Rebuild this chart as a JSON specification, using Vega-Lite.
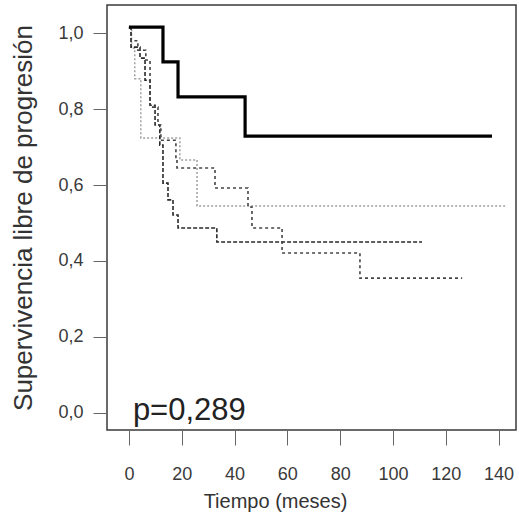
{
  "$schema": "https://vega.github.io/schema/vega-lite/v6.json",
  "width": 409,
  "height": 425,
  "autosize": {"type": "none"},
  "padding": {"left": 107, "top": 5, "right": 3, "bottom": 96},
  "background": "white",
  "config": {
    "view": {"stroke": "#3a3a3a", "strokeWidth": 1.5},
    "font": "Liberation Sans",
    "axis": {"labelFont": "Liberation Sans", "titleFont": "Liberation Sans", "titleFontWeight": "normal", "labelColor": "#3a3a3a", "titleColor": "#333", "tickColor": "#666", "grid": false, "domain": false}
  },
  "datasets": {
    "curves": [
      {"grupo": "A", "t": 0, "s": 1.013},
      {"grupo": "A", "t": 1.0, "s": 0.96},
      {"grupo": "A", "t": 2.2, "s": 0.88},
      {"grupo": "A", "t": 4.5, "s": 0.724},
      {"grupo": "A", "t": 19.3, "s": 0.666},
      {"grupo": "A", "t": 25.8, "s": 0.545},
      {"grupo": "A", "t": 142.5, "s": 0.545},
      {"grupo": "B", "t": 0, "s": 1.013},
      {"grupo": "B", "t": 0.8, "s": 0.963},
      {"grupo": "B", "t": 4.2, "s": 0.934},
      {"grupo": "B", "t": 6.1, "s": 0.876},
      {"grupo": "B", "t": 8.0, "s": 0.81},
      {"grupo": "B", "t": 9.9, "s": 0.758},
      {"grupo": "B", "t": 11.7, "s": 0.705},
      {"grupo": "B", "t": 12.9, "s": 0.605},
      {"grupo": "B", "t": 14.8, "s": 0.561},
      {"grupo": "B", "t": 16.7, "s": 0.521},
      {"grupo": "B", "t": 18.6, "s": 0.487},
      {"grupo": "B", "t": 33.3, "s": 0.45},
      {"grupo": "B", "t": 111, "s": 0.45},
      {"grupo": "C", "t": 0, "s": 1.013},
      {"grupo": "C", "t": 0.8, "s": 0.98},
      {"grupo": "C", "t": 3.4, "s": 0.955},
      {"grupo": "C", "t": 6.4, "s": 0.929},
      {"grupo": "C", "t": 8.0, "s": 0.805},
      {"grupo": "C", "t": 11.0, "s": 0.758},
      {"grupo": "C", "t": 12.1, "s": 0.718},
      {"grupo": "C", "t": 17.8, "s": 0.666},
      {"grupo": "C", "t": 18.2, "s": 0.645},
      {"grupo": "C", "t": 32.6, "s": 0.592},
      {"grupo": "C", "t": 45.1, "s": 0.542},
      {"grupo": "C", "t": 46.6, "s": 0.487},
      {"grupo": "C", "t": 58.0, "s": 0.421},
      {"grupo": "C", "t": 87.5, "s": 0.355},
      {"grupo": "C", "t": 126.2, "s": 0.355},
      {"grupo": "D", "t": 0, "s": 1.016},
      {"grupo": "D", "t": 12.9, "s": 0.924},
      {"grupo": "D", "t": 18.6, "s": 0.832},
      {"grupo": "D", "t": 44.0, "s": 0.729},
      {"grupo": "D", "t": 137.5, "s": 0.729}
    ],
    "label": [{"t": 1.5, "s": -0.018, "txt": "p=0,289"}]
  },
  "encoding": {
    "x": {"field": "t", "type": "quantitative", "scale": {"domain": [-8.3, 146.6], "nice": false, "zero": false},
          "axis": {"values": [0, 20, 40, 60, 80, 100, 120, 140], "tickSize": 15, "labelPadding": 20, "labelFontSize": 18, "title": "Tiempo (meses)", "titleFontSize": 20, "titlePadding": 8, "titleX": 168, "titleAnchor": "middle"}},
    "y": {"field": "s", "type": "quantitative", "scale": {"domain": [-0.045, 1.074], "nice": false, "zero": false},
          "axis": {"values": [0, 0.2, 0.4, 0.6, 0.8, 1.0], "tickSize": 14, "labelPadding": 10, "labelFontSize": 18, "labelExpr": "replace(format(datum.value, '.1f'), '.', ',')", "title": "Supervivencia libre de progresión", "titleFontSize": 26, "titlePadding": 21}}
  },
  "layer": [
    {
      "data": {"name": "curves"},
      "transform": [{"filter": "datum.grupo === 'A'"}],
      "mark": {"type": "line", "interpolate": "step-after", "color": "#a0a0a0", "strokeWidth": 1.5, "strokeDash": [2, 2]}
    },
    {
      "data": {"name": "curves"},
      "transform": [{"filter": "datum.grupo === 'B'"}],
      "mark": {"type": "line", "interpolate": "step-after", "color": "#2a2a2a", "strokeWidth": 1.6, "strokeDash": [4, 2]}
    },
    {
      "data": {"name": "curves"},
      "transform": [{"filter": "datum.grupo === 'C'"}],
      "mark": {"type": "line", "interpolate": "step-after", "color": "#454545", "strokeWidth": 1.6, "strokeDash": [3, 3]}
    },
    {
      "data": {"name": "curves"},
      "transform": [{"filter": "datum.grupo === 'D'"}],
      "mark": {"type": "line", "interpolate": "step-after", "color": "#000000", "strokeWidth": 3.2}
    },
    {
      "data": {"name": "label"},
      "mark": {"type": "text", "align": "left", "baseline": "alphabetic", "fontSize": 31, "font": "Liberation Sans", "color": "#222"},
      "encoding": {
        "text": {"field": "txt"}
      }
    }
  ]
}
